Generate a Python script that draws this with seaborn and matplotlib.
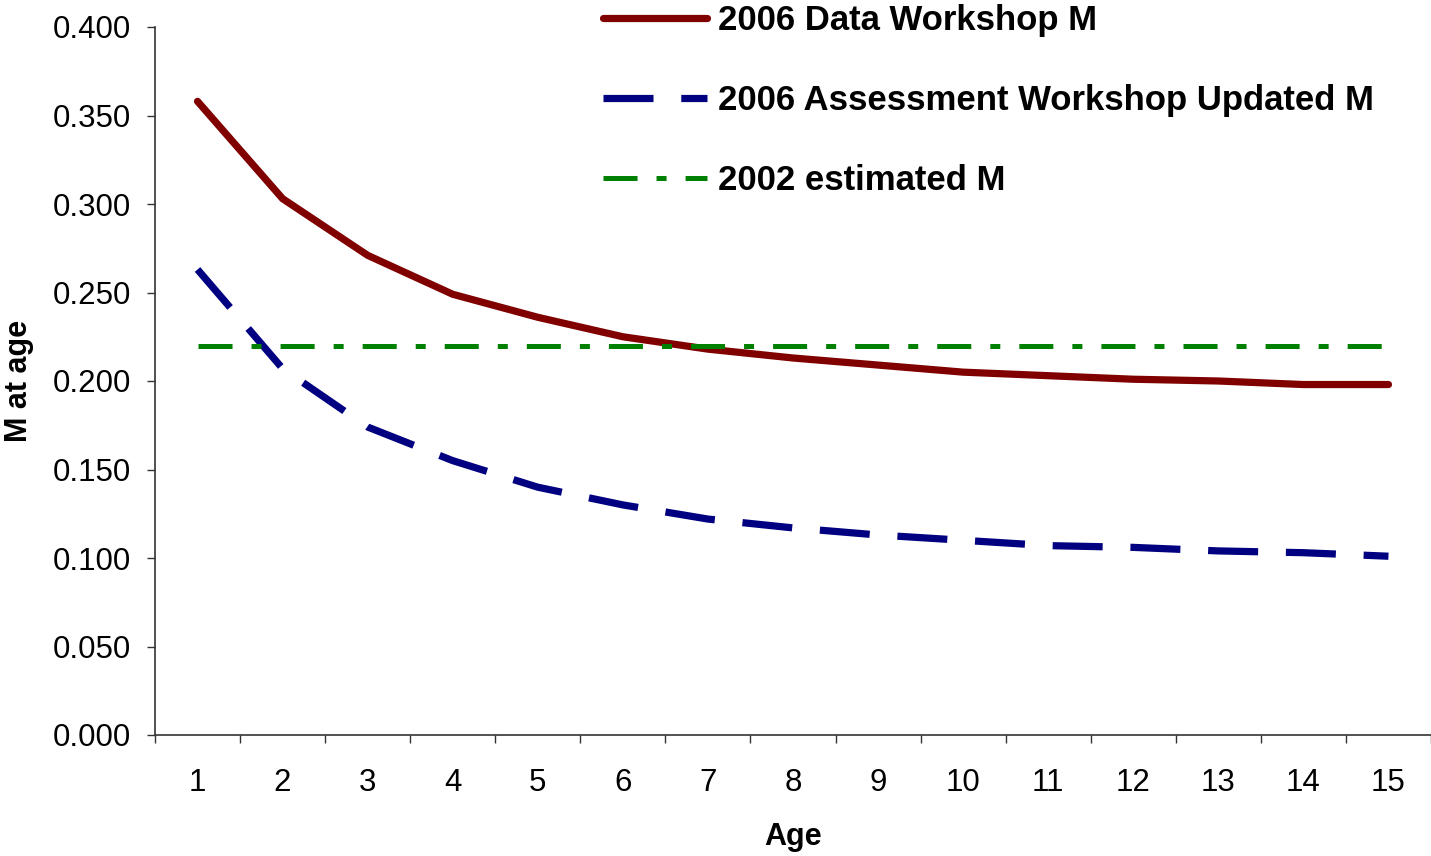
import matplotlib
matplotlib.use("Agg")
import matplotlib.pyplot as plt
import seaborn as sns
import pandas as pd

ages = list(range(1, 16))
data_workshop_m = [0.358, 0.303, 0.271, 0.249, 0.236, 0.225, 0.218, 0.213,
                   0.209, 0.205, 0.203, 0.201, 0.200, 0.198, 0.198]
assessment_updated_m = [0.263, 0.207, 0.174, 0.155, 0.140, 0.130, 0.122, 0.117,
                        0.113, 0.110, 0.107, 0.106, 0.104, 0.103, 0.101]
estimated_2002_m = [0.22] * 15

series_labels = ["2006 Data Workshop M",
                 "2006 Assessment Workshop Updated M",
                 "2002 estimated M"]
y_ticks = [0.0, 0.05, 0.1, 0.15, 0.2, 0.25, 0.3, 0.35, 0.4]

sns.set_theme(style="white")
plt.rcParams["font.family"] = ["Liberation Sans", "DejaVu Sans"]
plt.rcParams["lines.scale_dashes"] = False
plt.rcParams["text.color"] = "black"
plt.rcParams["axes.labelcolor"] = "black"
plt.rcParams["xtick.color"] = "black"
plt.rcParams["ytick.color"] = "black"

fig = plt.figure(figsize=(14.31, 8.56), dpi=100)
ax = fig.add_axes([155 / 1431, 121 / 856, 1276 / 1431, 708 / 856])

df = pd.DataFrame({"Age": ages,
                   series_labels[0]: data_workshop_m,
                   series_labels[1]: assessment_updated_m,
                   series_labels[2]: estimated_2002_m})

sns.lineplot(data=df, x="Age", y=series_labels[0], ax=ax, color="#800000",
             linewidth=5.2, label=series_labels[0], solid_capstyle="round")
sns.lineplot(data=df, x="Age", y=series_labels[1], ax=ax, color="#000080",
             linewidth=5.2, label=series_labels[1],
             linestyle=(0, (36, 20)), dash_capstyle="butt")
sns.lineplot(data=df, x="Age", y=series_labels[2], ax=ax, color="#008000",
             linewidth=3.6, label=series_labels[2],
             linestyle=(0, (24.5, 13.7, 7.2, 13.7)), dash_capstyle="butt")

ax.set_xlim(0.5, 15.5)
ax.set_ylim(0, 0.4)
ax.set_yticks(y_ticks)
ax.set_yticklabels([f"{v:.3f}" for v in y_ticks])
ax.set_xticks(ages)
ax.set_xticklabels([str(a) for a in ages])
ax.set_xticks([a + 0.5 for a in range(0, 16)], minor=True)

ax.tick_params(axis="x", which="major", length=0, pad=24, labelsize=22.5,
               labelcolor="black")
ax.tick_params(axis="x", which="minor", length=6, width=1, direction="out",
               color="#333333", bottom=True)
ax.tick_params(axis="y", length=6, width=1, direction="out", pad=11,
               labelsize=22.5, color="#333333", left=True, labelcolor="black")

for side in ["top", "right"]:
    ax.spines[side].set_visible(False)
for side in ["left", "bottom"]:
    ax.spines[side].set_color("#333333")
    ax.spines[side].set_linewidth(1.2)

ax.set_xlabel("Age", fontsize=22, fontweight="bold", labelpad=17, color="black")
ax.set_ylabel("M at age", fontsize=22, fontweight="bold", labelpad=14, color="black")
ax.grid(False)

leg = ax.legend(loc="upper left", bbox_to_anchor=(603 / 1431, 1.0 - 4 / 856),
                bbox_transform=fig.transFigure, frameon=False,
                prop={"size": 25, "weight": "bold"}, handlelength=3.0,
                handletextpad=0.3, labelspacing=1.35, borderpad=0,
                borderaxespad=0, labelcolor="black")

fig.savefig("out.png", dpi=100)
